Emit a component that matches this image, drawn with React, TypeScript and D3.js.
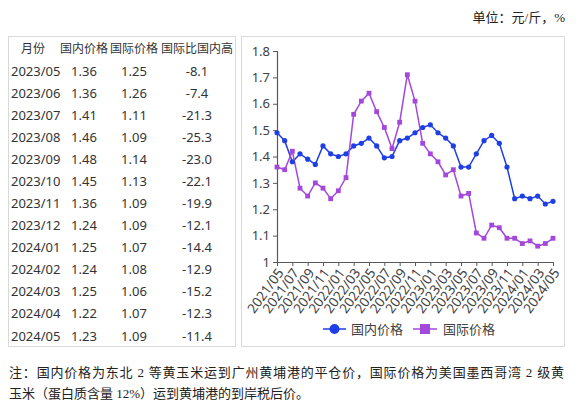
import { useEffect, useRef } from 'react';
import * as d3 from 'd3';

// monthly series 2021/05 - 2024/05
const months: string[] = [];
for (let i = 0; i < 37; i++) {
    const y = 2021 + Math.floor((4 + i) / 12);
    const m = ((4 + i) % 12) + 1;
    months.push(`${y}/${String(m).padStart(2, '0')}`);
}

const domestic = [
    1.49, 1.46, 1.38, 1.41, 1.39, 1.37, 1.44, 1.41,
    1.40, 1.41, 1.44, 1.45, 1.47, 1.44, 1.395, 1.40, 1.46, 1.47, 1.49, 1.51,
    1.52, 1.49, 1.47, 1.44, 1.36, 1.36, 1.41, 1.46, 1.48, 1.45, 1.36, 1.24,
    1.25, 1.24, 1.25, 1.22, 1.23,
];
const international = [
    1.36, 1.35, 1.42, 1.28, 1.25, 1.30, 1.28, 1.24,
    1.27, 1.32, 1.56, 1.61, 1.64, 1.57, 1.51, 1.43, 1.53, 1.71, 1.61, 1.45,
    1.41, 1.38, 1.33, 1.35, 1.25, 1.26, 1.11, 1.09, 1.14, 1.13, 1.09, 1.09,
    1.07, 1.08, 1.06, 1.07, 1.09,
];

// table
const tableHeader = ['月份', '国内价格', '国际价格', '国际比国内高'];
const tableMonths = ['2023/05', '2023/06', '2023/07', '2023/08', '2023/09', '2023/10', '2023/11', '2023/12', '2024/01', '2024/02', '2024/03', '2024/04', '2024/05'];
const tableDomestic = ['1.36', '1.36', '1.41', '1.46', '1.48', '1.45', '1.36', '1.24', '1.25', '1.24', '1.25', '1.22', '1.23'];
const tableIntl = ['1.25', '1.26', '1.11', '1.09', '1.14', '1.13', '1.09', '1.09', '1.07', '1.08', '1.06', '1.07', '1.09'];
const tableDiff = ['-8.1', '-7.4', '-21.3', '-25.3', '-23.0', '-22.1', '-19.9', '-12.1', '-14.4', '-12.9', '-15.2', '-12.3', '-11.4'];

const seriesNames = ['国内价格', '国际价格'];
const unitText = '单位：元/斤，%';
const noteLines = [
    '注：国内价格为东北 2 等黄玉米运到广州黄埔港的平仓价，国际价格为美国墨西哥湾 2 级黄',
    '玉米（蛋白质含量 12%）运到黄埔港的到岸税后价。',
];

const blue = '#1f3fe6';
const purple = '#a448dc';
const axisColor = '#595959';
const sans = '"Noto Sans", "Noto Sans CJK SC", sans-serif';
const serif = '"Liberation Serif", "Noto Sans CJK SC", serif';

export default function App() {
    const svgRef = useRef<SVGSVGElement>(null);

    useEffect(() => {
        if (!svgRef.current) return;
        const svg = d3.select(svgRef.current);
        svg.selectAll('*').remove();

        svg.append('rect').attr('width', 586).attr('height', 405).attr('fill', '#fff');

        // unit
        svg.append('text')
            .attr('x', 565).attr('y', 22)
            .attr('text-anchor', 'end')
            .attr('font-family', serif).attr('font-size', 13)
            .attr('fill', '#222')
            .text(unitText);

        // --- Table ---
        svg.append('rect')
            .attr('x', 8.5).attr('y', 36.5).attr('width', 227).attr('height', 310)
            .attr('fill', 'none').attr('stroke', '#d9d9d9');

        const colX = [33, 84, 134, 197];
        tableHeader.forEach((h, i) => {
            svg.append('text')
                .attr('x', colX[i]).attr('y', 53)
                .attr('text-anchor', 'middle')
                .attr('font-family', sans).attr('font-size', 12)
                .attr('fill', '#333')
                .text(h);
        });
        const rowY = d3.scaleLinear().domain([0, 12]).range([75.5, 340.5]);
        tableMonths.forEach((m, i) => {
            const y = rowY(i);
            const g = svg.append('g').attr('font-family', sans).attr('font-size', 13).attr('fill', '#333');
            g.append('text').attr('x', 11).attr('y', y).text(m);
            g.append('text').attr('x', colX[1]).attr('y', y).attr('text-anchor', 'middle').text(tableDomestic[i]);
            g.append('text').attr('x', colX[2]).attr('y', y).attr('text-anchor', 'middle').text(tableIntl[i]);
            g.append('text').attr('x', colX[3]).attr('y', y).attr('text-anchor', 'middle').text(tableDiff[i]);
        });

        // --- Chart ---
        svg.append('rect')
            .attr('x', 241.5).attr('y', 36.5).attr('width', 323).attr('height', 310)
            .attr('fill', 'none').attr('stroke', '#d9d9d9');

        const x = d3.scalePoint<string>().domain(months).range([277, 553]);
        const y = d3.scaleLinear().domain([1, 1.8]).range([262, 51]);

        const yAxis = d3.axisLeft(y)
            .tickValues(d3.range(0, 9).map(i => 1 + i / 10))
            .tickSize(4)
            .tickFormat(d => String(+(+d).toFixed(1)));
        const gy = svg.append('g').attr('transform', `translate(${x(months[0])},0)`).call(yAxis);
        gy.select('.domain').attr('stroke', axisColor).attr('stroke-width', 1.2);
        gy.selectAll('.tick line').attr('stroke', axisColor);
        gy.selectAll('.tick text')
            .attr('font-family', sans).attr('font-size', 13).attr('fill', '#404040');

        const xTicks = months.filter((_, i) => i % 2 === 0);
        const xAxis = d3.axisBottom(x).tickValues(xTicks).tickSize(4).tickSizeOuter(0);
        const gx = svg.append('g').attr('transform', `translate(0,${y(1)})`).call(xAxis);
        gx.select('.domain').attr('stroke', axisColor).attr('stroke-width', 1.2);
        gx.selectAll('.tick line').attr('stroke', axisColor);
        gx.selectAll('.tick text')
            .attr('font-family', sans).attr('font-size', 13.5).attr('fill', '#404040')
            .attr('text-anchor', 'end')
            .attr('dy', '0.35em')
            .attr('transform', 'translate(3,8) rotate(-54)')
            .attr('y', 0).attr('x', 0);

        const line = d3.line<number>()
            .x((_, i) => x(months[i]) as number)
            .y(d => y(d));

        svg.append('path').datum(domestic)
            .attr('d', line).attr('fill', 'none')
            .attr('stroke', blue).attr('stroke-width', 1.5);
        svg.append('path').datum(international)
            .attr('d', line).attr('fill', 'none')
            .attr('stroke', purple).attr('stroke-width', 1.5);

        svg.selectAll('circle.dom').data(domestic).enter().append('circle')
            .attr('cx', (_, i) => x(months[i]) as number)
            .attr('cy', d => y(d))
            .attr('r', 2.6).attr('fill', blue);

        svg.selectAll('rect.intl').data(international).enter().append('rect')
            .attr('x', (_, i) => (x(months[i]) as number) - 2.4)
            .attr('y', d => y(d) - 2.4)
            .attr('width', 4.8).attr('height', 4.8).attr('fill', purple);

        // --- Legend ---
        const lg = svg.append('g').attr('font-family', sans).attr('font-size', 13).attr('fill', '#404040');
        lg.append('line').attr('x1', 323).attr('x2', 346).attr('y1', 329).attr('y2', 329)
            .attr('stroke', blue).attr('stroke-width', 1.5);
        lg.append('circle').attr('cx', 334.5).attr('cy', 329).attr('r', 5).attr('fill', blue);
        lg.append('text').attr('x', 351).attr('y', 333.5).text(seriesNames[0]);
        lg.append('line').attr('x1', 413).attr('x2', 437).attr('y1', 329).attr('y2', 329)
            .attr('stroke', purple).attr('stroke-width', 1.5);
        lg.append('rect').attr('x', 420).attr('y', 324).attr('width', 10).attr('height', 10).attr('fill', purple);
        lg.append('text').attr('x', 443).attr('y', 333.5).text(seriesNames[1]);

        // --- Note ---
        svg.append('text')
            .attr('x', 9).attr('y', 377)
            .attr('font-family', serif).attr('font-size', 13)
            .attr('fill', '#222')
            .attr('textLength', 555).attr('lengthAdjust', 'spacing')
            .text(noteLines[0]);
        svg.append('text')
            .attr('x', 9).attr('y', 398)
            .attr('font-family', serif).attr('font-size', 13)
            .attr('fill', '#222')
            .text(noteLines[1]);
    }, []);

    return (
        <div style={{ position: 'absolute', left: 0, top: 0 }}>
            <svg ref={svgRef} width={586} height={405} />
        </div>
    );
}
